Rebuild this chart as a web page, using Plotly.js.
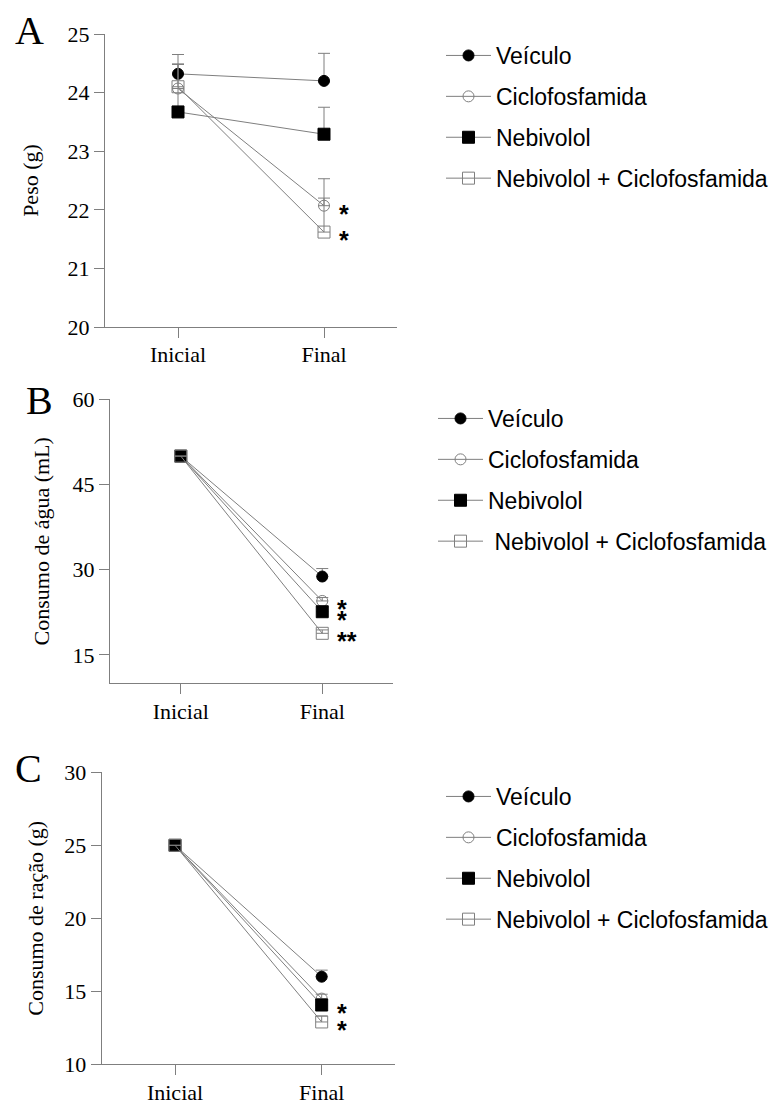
<!DOCTYPE html>
<html>
<head>
<meta charset="utf-8">
<script src="https://cdn.plot.ly/plotly-3.0.1.min.js"></script>
<style>html,body{margin:0;padding:0;background:#fff;}#chart{width:769px;height:1101px;}</style>
</head>
<body>
<div id="chart"></div>
<script>
// ---------- data ----------
const categories = ["Inicial", "Final"];
const seriesNames = ["Veículo", "Ciclofosfamida", "Nebivolol", "Nebivolol + Ciclofosfamida"];

// Panel A: Peso (g)
const pesoVeiculo = [24.32, 24.20];
const pesoVeiculoErr = [0.33, 0.47];
const pesoCiclo = [24.07, 22.07];
const pesoCicloErr = [0.42, 0.46];
const pesoNebivolol = [23.67, 23.29];
const pesoNebivololErr = [0.40, 0.46];
const pesoNebCiclo = [24.10, 21.62];
const pesoNebCicloErr = [0.38, 0.58];
const pesoSig = ["", "*", "", "*"];

// Panel B: Consumo de água (mL)
const aguaVeiculo = [50, 28.8];
const aguaVeiculoErr = [0, 1.4];
const aguaCiclo = [50, 24.5];
const aguaCicloErr = [0, 0.6];
const aguaNebivolol = [50, 22.6];
const aguaNebivololErr = [0, 0.8];
const aguaNebCiclo = [50, 18.8];
const aguaNebCicloErr = [0, 0.6];
const aguaSig = ["", "*", "*", "**"];

// Panel C: Consumo de ração (g)
const racaoVeiculo = [25, 16.0];
const racaoVeiculoErr = [0, 0.45];
const racaoCiclo = [25, 14.5];
const racaoCicloErr = [0, 0.3];
const racaoNebivolol = [25, 14.06];
const racaoNebivololErr = [0, 0.4];
const racaoNebCiclo = [25, 12.9];
const racaoNebCicloErr = [0, 0.4];
const racaoSig = ["", "", "*", "*"];

const yTicksA = [20, 21, 22, 23, 24, 25];
const yTicksB = [15, 30, 45, 60];
const yTicksC = [10, 15, 20, 25, 30];

// ---------- styling ----------
const W = 769, H = 1101;
const GRAY = "#7f7f7f";
const SERIF = "Liberation Serif, Times New Roman, serif";
const SANS = "Liberation Sans, Arial, Helvetica, sans-serif";
const markerStyles = [
  {symbol: "circle", color: "#000", size: 11, line: {color: "#000", width: 1}},
  {symbol: "circle-open", color: GRAY, size: 11, line: {color: GRAY, width: 1}},
  {symbol: "square", color: "#000", size: 12, line: {color: "#000", width: 1}},
  {symbol: "square-open", color: GRAY, size: 12, line: {color: GRAY, width: 1}}
];

function px2x(p){ return p / W; }
function px2y(p){ return 1 - p / H; }

const panels = [
  {vals: [pesoVeiculo, pesoCiclo, pesoNebivolol, pesoNebCiclo],
   errs: [pesoVeiculoErr, pesoCicloErr, pesoNebivololErr, pesoNebCicloErr],
   sig: pesoSig, xa: "x", ya: "y", legend: "legend", names: seriesNames},
  {vals: [aguaVeiculo, aguaCiclo, aguaNebivolol, aguaNebCiclo],
   errs: [aguaVeiculoErr, aguaCicloErr, aguaNebivololErr, aguaNebCicloErr],
   sig: aguaSig, xa: "x2", ya: "y2", legend: "legend2",
   names: [seriesNames[0], seriesNames[1], seriesNames[2], "\u00A0" + seriesNames[3]]},
  {vals: [racaoVeiculo, racaoCiclo, racaoNebivolol, racaoNebCiclo],
   errs: [racaoVeiculoErr, racaoCicloErr, racaoNebivololErr, racaoNebCicloErr],
   sig: racaoSig, xa: "x3", ya: "y3", legend: "legend3", names: seriesNames}
];

const traces = [];
const annotations = [];
panels.forEach((p, pi) => {
  p.vals.forEach((v, si) => {
    traces.push({
      type: "scatter", mode: "lines+markers",
      x: categories, y: v, name: p.names[si],
      xaxis: p.xa, yaxis: p.ya, legend: p.legend,
      legendgroup: "g" + pi + "_" + si,
      line: {color: GRAY, width: 1},
      marker: markerStyles[si],
      error_y: {type: "data", symmetric: false, array: p.errs[si], arrayminus: [0, 0],
                color: GRAY, thickness: 1, width: 6},
      cliponaxis: false,
      hoverinfo: "skip"
    });
    if (p.sig[si]) {
      annotations.push({
        x: categories[1], y: v[1], xref: p.xa, yref: p.ya,
        text: p.sig[si], showarrow: false, xanchor: "left", yanchor: "middle",
        xshift: 13, yshift: -8,
        font: {family: SANS, size: 25, color: "#000", weight: "bold"}
      });
    }
  });
});

// panel letters
[["A", 29, 31], ["B", 39, 401], ["C", 28, 768]].forEach(([t, x, y]) => {
  annotations.push({text: t, xref: "paper", yref: "paper", x: px2x(x), y: px2y(y),
    xanchor: "center", yanchor: "middle", showarrow: false,
    font: {family: SERIF, size: 40, color: "#000"}});
});

function xAxis(d0, d1, anchor){
  return {domain: [px2x(d0), px2x(d1)], anchor: anchor, type: "category",
    range: [-0.5, 1.5], showline: true, linecolor: GRAY, linewidth: 1,
    ticks: "outside", ticklen: 10, tickcolor: GRAY, tickwidth: 1,
    ticklabelstandoff: -2,
    showgrid: false, zeroline: false, fixedrange: true,
    tickfont: {family: SERIF, size: 22, color: "#000"}};
}
function yAxis(top, bottom, anchor, range, tickvals, title, standoff){
  return {domain: [px2y(bottom), px2y(top)], anchor: anchor, range: range,
    tickvals: tickvals, showline: true, linecolor: GRAY, linewidth: 1,
    ticks: "outside", ticklen: 10, tickcolor: GRAY, tickwidth: 1,
    showgrid: false, zeroline: false, fixedrange: true,
    tickfont: {family: SERIF, size: 22, color: "#000"},
    title: {text: title, font: {family: SERIF, size: 22, color: "#000"}, standoff: standoff}};
}
function legendCfg(x, y){
  return {x: px2x(x), y: px2y(y), xanchor: "left", yanchor: "top",
    font: {family: SANS, size: 23, color: "#000"}, tracegroupgap: 8,
    itemwidth: 45, bgcolor: "rgba(0,0,0,0)", traceorder: "grouped"};
}

const layout = {
  width: W, height: H,
  margin: {l: 0, r: 0, t: 0, b: 0, autoexpand: false},
  paper_bgcolor: "#fff", plot_bgcolor: "#fff",
  showlegend: true,
  xaxis: xAxis(105, 397, "y"),
  yaxis: yAxis(34, 327, "x", [20, 25], yTicksA, "Peso (g)", 22),
  xaxis2: xAxis(110, 393, "y2"),
  yaxis2: yAxis(399.3, 683.3, "x2", [10, 60], yTicksB, "Consumo de água (mL)", 16),
  xaxis3: xAxis(101.7, 395, "y3"),
  yaxis3: yAxis(772.3, 1064.3, "x3", [10, 30], yTicksC, "Consumo de ração (g)", 14),
  legend: legendCfg(441, 34),
  legend2: legendCfg(433, 397),
  legend3: legendCfg(441, 775),
  annotations: annotations
};

Plotly.newPlot("chart", traces, layout, {displayModeBar: false, staticPlot: true});
</script>
</body>
</html>
